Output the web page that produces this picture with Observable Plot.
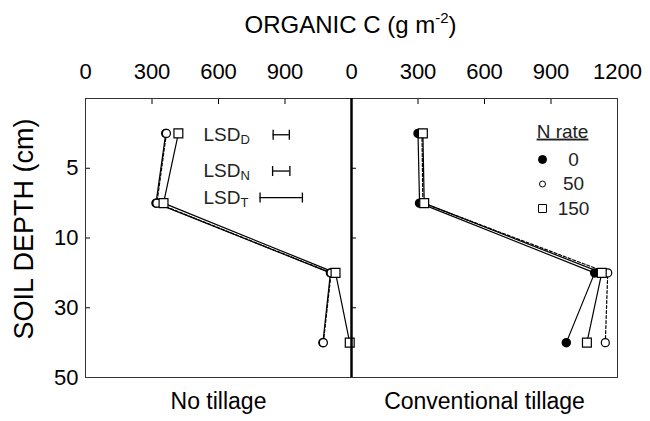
<!DOCTYPE html>
<html><head><meta charset="utf-8">
<script src="https://cdn.jsdelivr.net/npm/d3@7"></script>
<script src="https://cdn.jsdelivr.net/npm/@observablehq/plot@0.6"></script>
<style>
body{margin:0;background:#fff;font-family:"Liberation Sans",Arial,sans-serif;}
#wrap{position:relative;width:650px;height:421px;}
#title{position:absolute;left:84px;width:533px;top:13px;text-align:center;font-size:24px;line-height:24px;color:#000;}
#title .sup{font-size:15px;position:relative;top:-10px;}
#chart{position:absolute;left:0;top:50px;}
</style></head>
<body>
<div id="wrap">
<div id="title">ORGANIC C (g m<span class="sup">-2</span>)</div>
<div id="chart"></div>
</div>
<script>
// ---- data ----
const tillages = ["No tillage", "Conventional tillage"];
const nRates = [0, 50, 150];
const depths = [2.5, 7.5, 20, 40];
// organic C (g m-2) by depth, No tillage
const ntN0 = [362, 318, 1105, 1071];
const ntN50 = [365, 322, 1108, 1073];
const ntN150 = [419, 352, 1128, 1192];
// Conventional tillage
const ctN0 = [300, 307, 1097, 969];
const ctN50 = [318, 322, 1156, 1145];
const ctN150 = [322, 328, 1129, 1062];
const yTicks = [5, 10, 30, 50];
const topTicksNT = [0, 300, 600, 900];
const topTicksCT = [0, 300, 600, 900, 1200];
const lsdNames = ["D", "N", "T"];
const lsdValues = [73, 78, 191];
const lsdDepths = [2.6, 5.2, 7.1];
const legendLabels = ["0", "50", "150"];

// ---- build rows ----
// broken depth axis: 0–10 cm and 10–50 cm each take half the height
const depthT = d => d <= 10 ? d : 10 + (d - 10) / 4;
const depthInv = t => t <= 10 ? t : 10 + (t - 10) * 4;
const series = [
  ["No tillage", 0, ntN0], ["No tillage", 50, ntN50], ["No tillage", 150, ntN150],
  ["Conventional tillage", 0, ctN0], ["Conventional tillage", 50, ctN50], ["Conventional tillage", 150, ctN150]
];
const rows = series.flatMap(([t, n, vals]) => vals.map((c, i) => ({t, n, c, d: depths[i]})));
const topTickRows = [
  ...topTicksNT.map(v => ({t: "No tillage", v})),
  ...topTicksCT.map(v => ({t: "Conventional tillage", v}))
];
const lsdCenter = 883;
const lsdRows = lsdNames.map((s, i) => ({s, v: lsdValues[i], d: lsdDepths[i]}));
const lsdEnds = lsdRows.flatMap(r => [{x: lsdCenter - r.v / 2, d: r.d}, {x: lsdCenter + r.v / 2, d: r.d}]);
const vbar = {draw(ctx, size) { const h = Math.sqrt(size / Math.PI); ctx.moveTo(0, -h); ctx.lineTo(0, h); }};

const NT = () => "No tillage";
const CT = () => "Conventional tillage";
const H = 371, mt = 48, mb = 44;
const Y = r => depthT(r.d);

const legendSym = [
  {fill: "black", symbol: "circle", r: 4},
  {fill: "white", symbol: "circle", r: 3},
  {fill: "white", symbol: "square", r: 4.5}
];

const chart = Plot.plot({
  width: 650, height: H,
  marginTop: mt, marginBottom: mb, marginLeft: 84, marginRight: 33,
  style: {fontFamily: "'Liberation Sans', Arial, sans-serif", color: "#000", background: "#fff"},
  x: {domain: [0, 1200], axis: null},
  y: {domain: [0, depthT(50)], reverse: true, axis: null},
  fx: {domain: tillages, padding: 0, axis: null},
  marks: [
    // inward ticks
    Plot.tickY([5, 10, 30].map(depthT), {insetRight: 261, stroke: "#000"}),
    Plot.tickX([300, 600, 900], {insetBottom: 273, stroke: "#000"}),
    // top tick labels
    Plot.text(topTickRows, {fx: "t", x: "v", frameAnchor: "top", text: d => String(d.v), lineAnchor: "bottom", dy: -20, fontSize: 22}),
    // y tick labels
    Plot.axisY(yTicks.map(depthT), {tickSize: 0, tickPadding: 7, fontSize: 22, label: null, tickFormat: t => String(depthInv(t))}),
    // y label
    Plot.text(["SOIL DEPTH (cm)"], {fx: NT, frameAnchor: "left", rotate: -90, dx: -61, dy: -9, fontSize: 27, textAnchor: "middle", lineAnchor: "middle"}),
    // facet labels
    Plot.axisFx({anchor: "bottom", tickSize: 0, tickPadding: 15, fontSize: 23, label: null}),
    // data lines
    Plot.line(rows.filter(r => r.n !== 50), {fx: "t", x: "c", y: Y, z: r => r.t + r.n, stroke: "#000", strokeWidth: 1.2}),
    Plot.line(rows.filter(r => r.n === 50), {fx: "t", x: "c", y: Y, z: r => r.t + r.n, stroke: "#000", strokeWidth: 1.2, strokeDasharray: "3,2"}),
    // data points
    Plot.dot(rows.filter(r => r.n === 0), {fx: "t", x: "c", y: Y, r: 4, fill: "#000", stroke: "#000"}),
    Plot.dot(rows.filter(r => r.n === 50), {fx: "t", x: "c", y: Y, r: 4, fill: "#fff", stroke: "#000", strokeWidth: 1.2}),
    Plot.dot(rows.filter(r => r.n === 150), {fx: "t", x: "c", y: Y, r: 5, symbol: "square", fill: "#fff", stroke: "#000", strokeWidth: 1.2}),
    // LSD bars
    Plot.ruleY(lsdRows, {fx: NT, y: Y, x1: r => lsdCenter - r.v / 2, x2: r => lsdCenter + r.v / 2, stroke: "#000", strokeWidth: 1.3}),
    Plot.dot(lsdEnds, {fx: NT, x: "x", y: Y, r: 5, symbol: vbar, stroke: "#000", strokeWidth: 1.3}),
    Plot.text(lsdRows, {fx: NT, y: Y, frameAnchor: "left", dx: 118, text: () => "LSD", textAnchor: "start", fontSize: 19, fill: "#222"}),
    Plot.text(lsdRows, {fx: NT, y: Y, frameAnchor: "left", dx: 155, dy: 5, text: "s", textAnchor: "start", fontSize: 13, fill: "#222"}),
    // legend
    Plot.text(["N rate"], {fx: CT, frameAnchor: "top-left", dx: 211, dy: 33, fontSize: 19, textAnchor: "middle", lineAnchor: "middle", fill: "#222"}),
    ...legendSym.map((s, i) => Plot.dot([legendLabels[i]], {fx: CT, frameAnchor: "top-left", dx: 191, dy: 61 + i * 24.5, r: s.r, symbol: s.symbol, fill: s.fill, stroke: "#000", strokeWidth: 1})),
    ...legendLabels.map((lab, i) => Plot.text([lab], {fx: CT, frameAnchor: "top-left", dx: 222, dy: 61 + i * 24.5, text: d => d, fontSize: 19, textAnchor: "middle", lineAnchor: "middle", fill: "#222"})),
    // frame + divider
    Plot.frame({stroke: "#333", strokeWidth: 1}),
    Plot.ruleX([0], {fx: CT, stroke: "#000", strokeWidth: 2.5})
  ]
});
chart.querySelectorAll("text").forEach(t => {
  if (t.textContent === "N rate") t.style.textDecoration = "underline";
});
document.getElementById("chart").appendChild(chart);
</script>
</body></html>
